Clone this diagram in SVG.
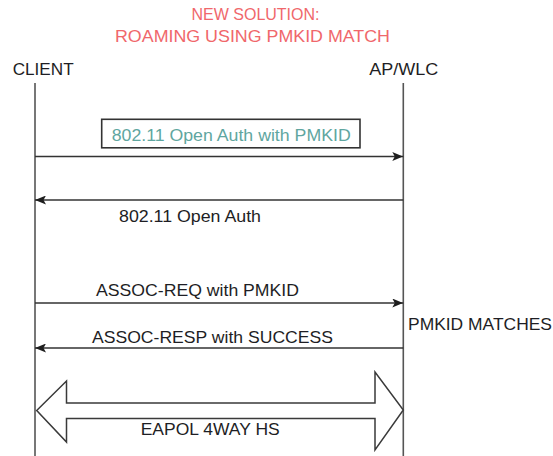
<svg xmlns="http://www.w3.org/2000/svg" width="553" height="456" viewBox="0 0 553 456">
<defs>
<style>
text{font-family:"Liberation Sans",Arial,Helvetica,sans-serif;font-size:17px;fill:#1e1e24;lengthAdjust:spacingAndGlyphs}
.title{fill:#f0676b}
.teal{fill:#5fa6a0}
.life{stroke:#555;stroke-width:1.6;fill:none}
.msg{stroke:#333;stroke-width:1.5;fill:none}
</style>
<marker id="ah" viewBox="0 0 11 9" refX="11" refY="4.5" markerWidth="11" markerHeight="9" markerUnits="userSpaceOnUse" orient="auto">
<path d="M0,0 L11,4.5 L0,9 L2.5,4.5 Z" fill="#1e1e1e"/>
</marker>
</defs>
<rect width="553" height="456" fill="#fff"/>
<g id="title">
<text class="title" x="191.5" y="20" textLength="128" lengthAdjust="spacingAndGlyphs">NEW SOLUTION:</text>
<text class="title" x="115" y="41.7" textLength="275" lengthAdjust="spacingAndGlyphs">ROAMING USING PMKID MATCH</text>
</g>
<g id="client">
<text x="12.7" y="75" textLength="61" lengthAdjust="spacingAndGlyphs">CLIENT</text>
<line class="life" x1="35" y1="83" x2="35" y2="456"/>
</g>
<g id="apwlc">
<text x="369.3" y="75" textLength="69" lengthAdjust="spacingAndGlyphs">AP/WLC</text>
<line class="life" x1="403.3" y1="83" x2="403.3" y2="456"/>
</g>
<g id="pmkid-matches">
<text x="408" y="330" textLength="144" lengthAdjust="spacingAndGlyphs">PMKID MATCHES</text>
</g>
<g id="connectors">
<line class="msg" x1="35" y1="156.5" x2="403.3" y2="156.5" marker-end="url(#ah)"/>
<line class="msg" x1="403.3" y1="200" x2="35" y2="200" marker-end="url(#ah)"/>
<line class="msg" x1="35" y1="303" x2="403.3" y2="303" marker-end="url(#ah)"/>
<line class="msg" x1="403.3" y1="348" x2="35" y2="348" marker-end="url(#ah)"/>
<path d="M36.7,410.5 L66.5,381 L66.5,403 L375,403 L375,372 L403.3,410 L375,450 L375,418.5 L66.5,418.5 L66.5,442 Z" fill="#fff" stroke="#3a3a3a" stroke-width="1.5" stroke-linejoin="miter"/>
</g>
<g id="labels">
<rect x="101.7" y="119.3" width="258.3" height="28.5" fill="#fff" stroke="#333" stroke-width="1.6"/>
<text class="teal" x="111.7" y="140.7" textLength="239" lengthAdjust="spacingAndGlyphs">802.11 Open Auth with PMKID</text>
<text x="119" y="221.7" textLength="142" lengthAdjust="spacingAndGlyphs">802.11 Open Auth</text>
<text x="96" y="296" textLength="203" lengthAdjust="spacingAndGlyphs">ASSOC-REQ with PMKID</text>
<text x="92" y="343" textLength="241" lengthAdjust="spacingAndGlyphs">ASSOC-RESP with SUCCESS</text>
<text x="140.7" y="435" textLength="139" lengthAdjust="spacingAndGlyphs">EAPOL 4WAY HS</text>
</g>
</svg>
